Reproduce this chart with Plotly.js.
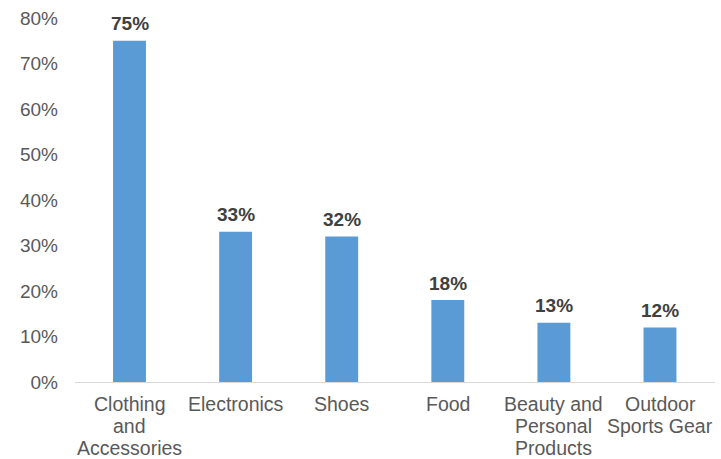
<!DOCTYPE html>
<html><head><meta charset="utf-8">
<script src="https://cdn.plot.ly/plotly-3.0.1.min.js"></script>
<style>html,body{margin:0;padding:0;background:#fff;}#chart{width:721px;height:459px;}</style>
</head><body><div id="chart"></div>
<script>
const categories = ["Clothing and Accessories", "Electronics", "Shoes", "Food", "Beauty and Personal Products", "Outdoor Sports Gear"];
const categoryLines = [["Clothing", "and", "Accessories"], ["Electronics"], ["Shoes"], ["Food"], ["Beauty and", "Personal", "Products"], ["Outdoor", "Sports Gear"]];
const values = [75, 33, 32, 18, 13, 12];
const labels = values.map(v => v + "%");
const yTickVals = [0, 10, 20, 30, 40, 50, 60, 70, 80];
const yTickText = yTickVals.map(v => v + "%");

const annotations = [];
categories.forEach((c, ci) => {
  categoryLines[ci].forEach((line, li) => {
    annotations.push({
      x: c, y: 0, xref: "x", yref: "y", text: line, showarrow: false,
      xanchor: "center", yanchor: "middle", yshift: -(22 + li * 22),
      font: {family: "Liberation Sans, Arial, sans-serif", size: 19.5, color: "#595959"}
    });
  });
  annotations.push({
    x: c, y: values[ci], xref: "x", yref: "y", text: "<b>" + labels[ci] + "</b>", showarrow: false,
    xanchor: "center", yanchor: "middle", yshift: 17,
    font: {family: "Liberation Sans, Arial, sans-serif", size: 19, color: "#404040"}
  });
});

Plotly.newPlot("chart", [{
  type: "bar",
  x: categories,
  y: values,
  marker: {color: "#5B9BD5"},
  hoverinfo: "none"
}], {
  width: 721, height: 459,
  margin: {l: 75, r: 6, t: 18, b: 77},
  paper_bgcolor: "#fff", plot_bgcolor: "#fff",
  bargap: 0.69,
  showlegend: false,
  annotations: annotations,
  font: {family: "Liberation Sans, Arial, sans-serif", color: "#595959", size: 19},
  xaxis: {showline: true, linecolor: "#d9d9d9", linewidth: 1, ticks: "", showticklabels: false, fixedrange: true},
  yaxis: {range: [0, 80], tickvals: yTickVals, ticktext: yTickText, showgrid: false, zeroline: false, showline: false, ticks: "", tickfont: {size: 19, color: "#595959"}, ticklabelstandoff: 16, fixedrange: true}
}, {displayModeBar: false, staticPlot: true});
</script></body></html>
